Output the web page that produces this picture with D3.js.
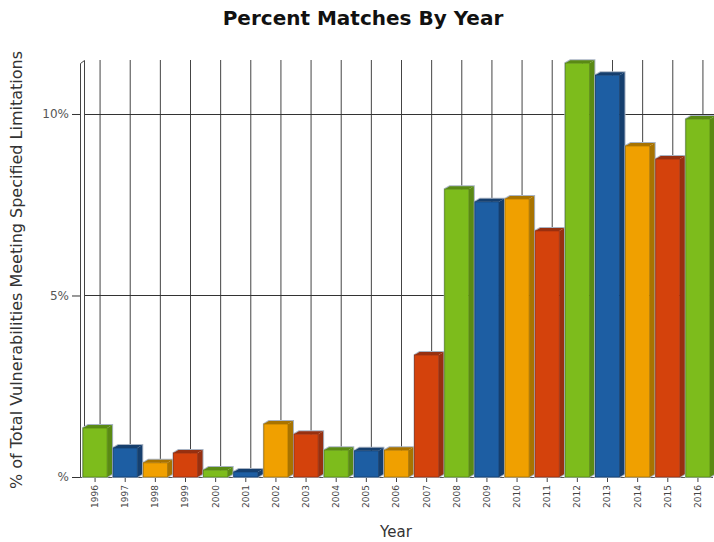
<!DOCTYPE html>
<html>
<head>
<meta charset="utf-8">
<script src="https://cdn.jsdelivr.net/npm/d3@7"></script>
<style>
body { margin: 0; background: #fff; }
svg { display: block; font-family: "DejaVu Sans", Verdana, sans-serif; }
</style>
</head>
<body>
<svg id="chart" width="714" height="542"></svg>
<script>
var years = ["1996", "1997", "1998", "1999", "2000", "2001", "2002", "2003", "2004", "2005", "2006",
    "2007", "2008", "2009", "2010", "2011", "2012", "2013", "2014", "2015", "2016"];
var percents = [1.35, 0.80, 0.39, 0.66, 0.19, 0.14, 1.46, 1.18, 0.74, 0.72, 0.74,
    3.36, 7.93, 7.58, 7.66, 6.78, 11.40, 11.07, 9.12, 8.76, 9.86];
var yTicks = [0, 5, 10];
var yTickLabels = ["%", "5%", "10%"];
var faceColors = ["#7dbc1c", "#1d5ea3", "#f0a000", "#d4420c"];
var sideColors = ["#5a8a14", "#163f6e", "#a87300", "#973010"];

var depthX = 5;
var depthY = 3;

var svg = d3.select("#chart");

var x = d3.scaleBand().domain(years).range([80, 713]).paddingInner(0.2).paddingOuter(0.1);
var y = d3.scaleLinear().domain([0, 11.46]).range([477, 61]);

// back grid
var grid = svg.append("g");
grid.selectAll("line.v").data(years).enter().append("line")
    .attr("class", "v")
    .attr("x1", function (d) { return x(d) + x.bandwidth() / 2 + depthX; })
    .attr("x2", function (d) { return x(d) + x.bandwidth() / 2 + depthX; })
    .attr("y1", y.range()[1] - 1).attr("y2", y(0))
    .style("stroke", "#444").style("stroke-width", 1);
grid.selectAll("line.h").data(yTicks.slice(1)).enter().append("line")
    .attr("class", "h")
    .attr("x1", 84).attr("x2", 714)
    .attr("y1", function (d) { return Math.round(y(d)) + 0.5; })
    .attr("y2", function (d) { return Math.round(y(d)) + 0.5; })
    .style("stroke", "#333").style("stroke-width", 1);

// wall edge
svg.append("path")
    .attr("d", "M80.5," + y(0) + "V63.5L84.5,60.5V" + y(0))
    .style("fill", "none").style("stroke", "#444").style("stroke-width", 1);

// y axis
var yAxis = d3.axisLeft(y).tickValues(yTicks).tickSize(8).tickPadding(3)
    .tickFormat(function (d, i) { return yTickLabels[i]; });
var yG = svg.append("g").attr("transform", "translate(80,0)").call(yAxis);
yG.select(".domain").remove();
yG.selectAll(".tick line").style("stroke", "#333");
yG.selectAll(".tick text").style("font-size", "12px").style("fill", "#555")
    .style("font-family", "DejaVu Sans, sans-serif");

// x axis
var xAxis = d3.axisBottom(x).tickSize(5).tickPadding(3);
var xG = svg.append("g").attr("transform", "translate(0," + y(0) + ")").call(xAxis);
xG.select(".domain").attr("d", "M80,0.5H713").style("stroke", "#555");
xG.selectAll(".tick line").style("stroke", "#444");
xG.selectAll(".tick text")
    .attr("transform", "rotate(-90)")
    .attr("x", -8).attr("y", 0).attr("dy", "0.32em")
    .style("text-anchor", "end")
    .style("font-size", "9px").style("fill", "#444")
    .style("font-family", "DejaVu Sans, sans-serif");

// bars
var bars = svg.append("g").selectAll("g.bar").data(percents).enter().append("g").attr("class", "bar");
bars.append("path")
    .attr("d", function (d, i) {
        var x0 = x(years[i]), w = x.bandwidth(), top = y(d), base = y(0);
        return "M" + x0 + "," + top + "L" + (x0 + depthX) + "," + (top - depthY) +
            "H" + (x0 + w + depthX) + "V" + (base - depthY) + "L" + (x0 + w) + "," + base +
            "H" + x0 + "Z";
    })
    .style("fill", "none").style("stroke", "#a9b4c4").style("stroke-width", 2);
bars.append("path")
    .attr("d", function (d, i) {
        var x0 = x(years[i]), w = x.bandwidth(), top = y(d), base = y(0);
        return "M" + (x0 + w) + "," + top + "L" + (x0 + w + depthX) + "," + (top - depthY) +
            "V" + (base - depthY) + "L" + (x0 + w) + "," + base + "Z";
    })
    .style("fill", function (d, i) { return sideColors[i % 4]; });
bars.append("path")
    .attr("d", function (d, i) {
        var x0 = x(years[i]), w = x.bandwidth(), top = y(d);
        return "M" + x0 + "," + top + "L" + (x0 + depthX) + "," + (top - depthY) +
            "H" + (x0 + w + depthX) + "L" + (x0 + w) + "," + top + "Z";
    })
    .style("fill", function (d, i) { return sideColors[i % 4]; });
bars.append("rect")
    .attr("x", function (d, i) { return x(years[i]); })
    .attr("y", function (d) { return y(d); })
    .attr("width", x.bandwidth())
    .attr("height", function (d) { return y(0) - y(d); })
    .style("fill", function (d, i) { return faceColors[i % 4]; })
    .style("stroke", function (d, i) { return sideColors[i % 4]; })
    .style("stroke-width", 0.8);

// titles
svg.append("text").attr("x", 363).attr("y", 25).attr("text-anchor", "middle")
    .style("font-size", "20px").style("font-weight", "bold").style("fill", "#111")
    .text("Percent Matches By Year");
svg.append("text").attr("transform", "translate(22,270) rotate(-90)").attr("text-anchor", "middle")
    .style("font-size", "16px").style("fill", "#333")
    .text("% of Total Vulnerabilities Meeting Specified Limitations");
svg.append("text").attr("x", 396).attr("y", 537).attr("text-anchor", "middle")
    .style("font-size", "15px").style("fill", "#333")
    .text("Year");
</script>
</body>
</html>
